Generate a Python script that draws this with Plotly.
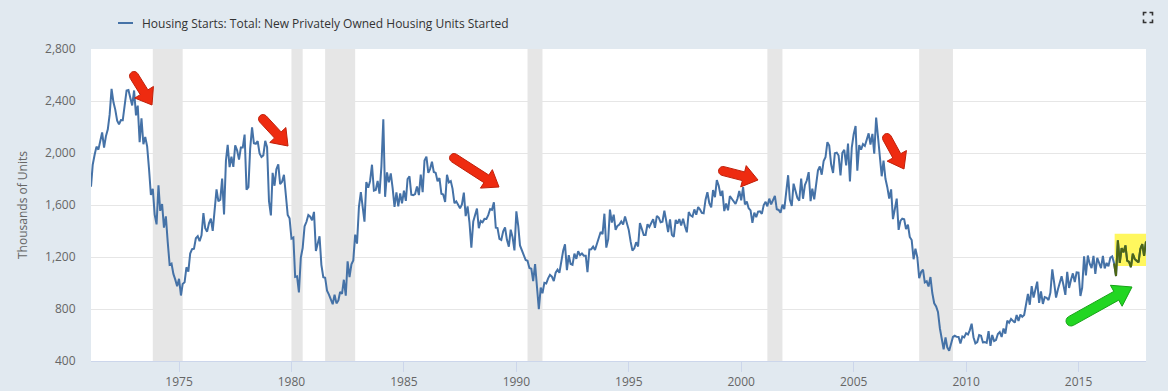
import math
import pandas as pd
import plotly.graph_objects as go

# ---------------- data (monthly, SAAR, thousands of units) ----------------
start_month = "1971-02-01"

starts_1970s = [
    1741, 1910, 1986, 2049, 2026, 2083, 2158, 2041, 2128, 2182, 2295,
    2494, 2390, 2334, 2249, 2221, 2254, 2252, 2382, 2481, 2485, 2421, 2366,
    2481, 2289, 2365, 2084, 2266, 2067, 2123, 2051, 1874, 1677, 1724, 1526,
    1451, 1752, 1555, 1607, 1426, 1513, 1316, 1142, 1150, 1070, 1026, 975,
    1032, 904, 993, 1005, 1121, 1087, 1226, 1260, 1264, 1344, 1360, 1321,
    1367, 1538, 1421, 1395, 1459, 1495, 1401, 1550, 1720, 1629, 1641, 1804,
    1527, 1943, 2063, 1892, 1971, 1893, 2058, 2020, 1949, 2042, 2042, 2142,
    1718, 1738, 2032, 2197, 2075, 2070, 2092, 1996, 1970, 1981, 2094, 2044,
    1630, 1520, 1847, 1748, 1876, 1913, 1760, 1778, 1832, 1681, 1524, 1498,
]
starts_1980s = [
    1341, 1350, 1047, 1051, 927, 1196, 1269, 1436, 1471, 1523, 1510, 1482,
    1547, 1246, 1306, 1360, 1140, 1045, 1041, 940, 911, 873, 837, 910,
    843, 866, 931, 917, 1025, 902, 1166, 1046, 1144, 1173, 1372, 1303,
    1586, 1699, 1606, 1472, 1776, 1733, 1785, 1910, 1710, 1715, 1785, 1688,
    1897, 2260, 1663, 1851, 1774, 1843, 1732, 1586, 1698, 1590, 1689, 1612,
    1711, 1632, 1800, 1821, 1680, 1676, 1684, 1743, 1676, 1834, 1698, 1942,
    1972, 1848, 1876, 1933, 1854, 1847, 1782, 1807, 1687, 1681, 1623, 1833,
    1774, 1784, 1726, 1614, 1628, 1594, 1575, 1605, 1695, 1515, 1589, 1467,
    1271, 1473, 1532, 1573, 1421, 1478, 1467, 1493, 1492, 1522, 1569, 1563,
    1621, 1425, 1422, 1339, 1331, 1397, 1427, 1332, 1279, 1410, 1351, 1251,
]
starts_1990s = [
    1551, 1437, 1289, 1248, 1212, 1177, 1171, 1115, 1110, 1014, 1145, 969,
    798, 965, 921, 1001, 996, 1036, 1063, 1049, 1015, 1079, 1103, 1079,
    1176, 1250, 1297, 1099, 1214, 1145, 1139, 1226, 1186, 1244, 1214, 1227,
    1210, 1210, 1083, 1258, 1260, 1280, 1254, 1300, 1343, 1392, 1376, 1533,
    1272, 1337, 1564, 1465, 1526, 1409, 1439, 1450, 1474, 1450, 1511, 1455,
    1407, 1316, 1249, 1267, 1314, 1281, 1461, 1416, 1369, 1369, 1452, 1431,
    1467, 1491, 1424, 1516, 1504, 1467, 1472, 1557, 1475, 1392, 1489, 1370,
    1355, 1486, 1457, 1492, 1442, 1494, 1437, 1390, 1546, 1520, 1510, 1566,
    1525, 1584, 1567, 1540, 1536, 1641, 1698, 1614, 1582, 1715, 1660, 1792,
    1748, 1670, 1710, 1553, 1611, 1559, 1669, 1648, 1635, 1608, 1648, 1708,
]
starts_2000s = [
    1636, 1737, 1604, 1626, 1575, 1559, 1463, 1541, 1507, 1549, 1551, 1532,
    1600, 1625, 1590, 1649, 1605, 1636, 1670, 1567, 1562, 1540, 1602, 1568,
    1698, 1829, 1642, 1592, 1764, 1717, 1655, 1633, 1804, 1648, 1753, 1788,
    1853, 1629, 1726, 1643, 1751, 1867, 1897, 1833, 1939, 1967, 2083, 2057,
    1911, 1846, 1998, 2003, 1981, 1828, 2002, 2024, 1905, 2072, 1782, 2042,
    2144, 2207, 1864, 2061, 2025, 2068, 2054, 2095, 2151, 2065, 2147, 1994,
    2273, 2119, 1969, 1821, 1942, 1802, 1737, 1650, 1720, 1491, 1570, 1649,
    1409, 1480, 1495, 1490, 1415, 1448, 1354, 1330, 1183, 1264, 1197, 1037,
    1084, 1103, 1005, 1013, 973, 1046, 923, 844, 820, 777, 652, 560,
    490, 582, 505, 478, 540, 585, 594, 586, 585, 534, 588, 581,
]
starts_2010s = [
    614, 604, 636, 687, 583, 536, 546, 599, 594, 543, 545, 539,
    630, 517, 600, 554, 561, 608, 623, 585, 650, 610, 711, 694,
    723, 704, 695, 753, 708, 757, 740, 754, 847, 915, 833, 976,
    888, 962, 1010, 847, 936, 839, 892, 886, 869, 926, 1105, 1003,
    888, 952, 992, 1052, 985, 909, 1085, 962, 1025, 1074, 1008, 1082,
    1080, 900, 963, 1205, 1059, 1211, 1148, 1114, 1208, 1070, 1194, 1148,
    1114, 1208, 1113, 1155, 1128, 1195, 1205, 1150, 1054, 1328, 1155, 1268,
    1236, 1289, 1172, 1162, 1122, 1225, 1185, 1172, 1159, 1261, 1299, 1209,
    1320,
]

recession_starts = ["1973-11-01", "1980-01-01", "1981-07-01", "1990-07-01", "2001-03-01", "2007-12-01"]
recession_ends = ["1975-03-01", "1980-07-01", "1982-11-01", "1991-03-01", "2001-11-01", "2009-06-01"]

highlight_from = "2016-08-01"

y_ticks = [400, 800, 1200, 1600, 2000, 2400, 2800]
x_tick_years = ["1975", "1980", "1985", "1990", "1995", "2000", "2005", "2010", "2015"]

series_name = "Housing Starts: Total: New Privately Owned Housing Units Started"
y_title = "Thousands of Units"

# ---------------- build ----------------
values = starts_1970s + starts_1980s + starts_1990s + starts_2000s + starts_2010s
dates = pd.date_range(start_month, periods=len(values), freq="MS")
df = pd.DataFrame({"date": dates, "value": values})
hl = df[df["date"] >= highlight_from]

W, H = 1168, 391
L, R, T, B = 91, 22, 49, 30
PW, PH = W - L - R, H - T - B


def px(xp):
    return (xp - L) / PW


def py(yp):
    return (H - B - yp) / PH


def arrow_path(tail, head, sw, hw, hl_):
    tx, ty = tail
    hx, hy = head
    d = math.hypot(hx - tx, hy - ty)
    ux, uy = (hx - tx) / d, (hy - ty) / d
    nx, ny = -uy, ux
    bx, by = hx - ux * hl_, hy - uy * hl_
    pts = [
        (bx + nx * sw / 2, by + ny * sw / 2),
        (bx + nx * hw / 2, by + ny * hw / 2),
        (hx, hy),
        (bx - nx * hw / 2, by - ny * hw / 2),
        (bx - nx * sw / 2, by - ny * sw / 2),
    ]
    # rounded tail: semicircle from -n side round the back to +n side
    for i in range(0, 9):
        ang = math.pi * i / 8
        qx = tx - nx * (sw / 2) * math.cos(ang) - ux * (sw / 2) * math.sin(ang)
        qy = ty - ny * (sw / 2) * math.cos(ang) - uy * (sw / 2) * math.sin(ang)
        pts.append((qx, qy))
    return "M " + " L ".join(f"{px(x):.5f} {py(y):.5f}" for x, y in pts) + " Z"


LINE = "#4572a7"
FONT = "Open Sans, Lato, DejaVu Sans, sans-serif"

fig = go.Figure()
fig.add_trace(go.Scatter(x=df["date"], y=df["value"], mode="lines",
                         line=dict(color=LINE, width=2), name=series_name,
                         hoverinfo="x+y"))
fig.add_trace(go.Scatter(x=hl["date"], y=hl["value"], mode="lines",
                         line=dict(color="#4d6614", width=2), showlegend=False,
                         hoverinfo="skip"))

shapes = []
for s, e in zip(recession_starts, recession_ends):
    shapes.append(dict(type="rect", xref="x", yref="paper", x0=s, x1=e, y0=0, y1=1,
                       fillcolor="#e6e6e6", line=dict(width=0), layer="between"))
# yellow highlight box
shapes.append(dict(type="rect", xref="x", yref="y", x0="2016-08-10", x1="2018-02-05",
                   y0=1130, y1=1378, fillcolor="#fff75e", line=dict(width=0),
                   layer="between"))
# legend line symbol
shapes.append(dict(type="line", xref="paper", yref="paper", x0=px(118), x1=px(133),
                   y0=py(23), y1=py(23), line=dict(color=LINE, width=2)))
# expand icon (four corners)
ic = dict(color="#333333", width=1.6)
x0i, x1i, y0i, y1i, k = 1143.5, 1152.5, 12.5, 22.5, 3
for (cx, cy, dx, dy) in [(x0i, y0i, 1, 1), (x1i, y0i, -1, 1), (x0i, y1i, 1, -1), (x1i, y1i, -1, -1)]:
    path = f"M {px(cx + dx * k)} {py(cy)} L {px(cx)} {py(cy)} L {px(cx)} {py(cy + dy * k)}"
    shapes.append(dict(type="path", xref="paper", yref="paper", path=path, line=ic))

# callout arrows (pixel positions, drawn as filled shapes)
red_arrows = [((134, 76), (152, 105)), ((263, 119), (288, 146)), ((454, 158), (499, 187)),
              ((723, 171), (758, 180)), ((887, 138), (904, 169))]
for tail, head in red_arrows:
    shapes.append(dict(type="path", xref="paper", yref="paper",
                       path=arrow_path(tail, head, 9, 22, 15),
                       fillcolor="#ee2b10", line=dict(color="#c0200a", width=1),
                       layer="above"))
shapes.append(dict(type="path", xref="paper", yref="paper",
                   path=arrow_path((1071, 321), (1132, 287), 10, 24, 18),
                   fillcolor="#22d622", line=dict(color="#17a317", width=1),
                   layer="above"))

annotations = [
    dict(xref="paper", yref="paper", x=px(140), y=py(23), text=series_name,
         showarrow=False, xanchor="left", yanchor="middle",
         font=dict(family=FONT, size=12, color="#333333")),
    dict(xref="paper", yref="paper", x=px(22), y=0.5, text=y_title, textangle=-90,
         showarrow=False, xanchor="center", yanchor="middle",
         font=dict(family=FONT, size=12, color="#666666")),
]

fig.update_layout(
    width=W, height=H, autosize=False,
    margin=dict(l=L, r=R, t=T, b=B, pad=0, autoexpand=False),
    paper_bgcolor="#e1e9f0", plot_bgcolor="#ffffff",
    showlegend=False,
    font=dict(family=FONT, size=12, color="#666666"),
    shapes=shapes, annotations=annotations,
    xaxis=dict(range=["1971-02-01", "2018-01-01"], type="date", automargin=False,
               tickvals=[f"{y}-01-01" for y in x_tick_years], ticktext=x_tick_years,
               showgrid=False, showline=True, linecolor="#ccd6eb", linewidth=1,
               ticks="outside", ticklen=10, tickcolor="#ccd6eb",
               tickfont=dict(family=FONT, size=12, color="#666666"), zeroline=False),
    yaxis=dict(range=[400, 2800], tickvals=y_ticks, tickformat=",", automargin=False,
               showgrid=True, gridcolor="#e6e6e6", gridwidth=1,
               showline=False, zeroline=False,
               ticks="outside", ticklen=12, tickcolor="rgba(0,0,0,0)",
               tickfont=dict(family=FONT, size=12, color="#666666")),
)

fig.write_html("out.html", config={"displayModeBar": False},
               post_script="document.body.style.margin='0';document.body.style.overflow='hidden';")
